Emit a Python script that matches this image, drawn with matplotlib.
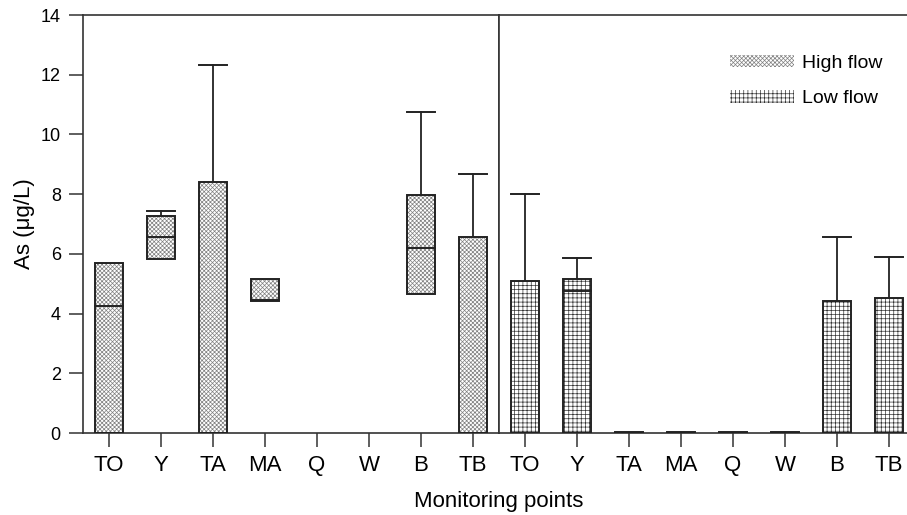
import numpy as np
import matplotlib
matplotlib.use('Agg')
import matplotlib.pyplot as plt
from matplotlib.patches import Patch

plt.rcParams['font.family'] = ['Liberation Sans', 'DejaVu Sans']
plt.rcParams['hatch.linewidth'] = 0.5

categories = ['TO', 'Y', 'TA', 'MA', 'Q', 'W', 'B', 'TB']
nan = np.nan

# high flow: box bottom / top, median line, whisker cap
high_bottom = [0, 5.83, 0, 4.43, nan, nan, 4.64, 0]
high_top = [5.70, 7.27, 8.41, 5.15, nan, nan, 7.97, 6.55]
high_median = [4.26, 6.55, nan, 4.46, nan, nan, 6.20, nan]
high_whisker = [nan, 7.42, 12.32, nan, nan, nan, 10.75, 8.68]

# low flow
low_bottom = [0, 0, 0, 0, 0, 0, 0, 0]
low_top = [5.10, 5.16, 0.03, 0.03, 0.03, 0.03, 4.43, 4.52]
low_median = [nan, 4.76, nan, nan, nan, nan, nan, nan]
low_whisker = [7.99, 5.86, nan, nan, nan, nan, 6.56, 5.91]

W, H = 907, 515
fig = plt.figure(figsize=(W / 100, H / 100), dpi=100)
ax1 = fig.add_axes([83 / W, 1 - 433 / H, 416 / W, 418 / H])
ax2 = fig.add_axes([499 / W, 1 - 433 / H, 416 / W, 418 / H])

x = np.arange(len(categories)) + 0.5
bw = 0.52

HIGH_HATCH, HIGH_COL = 'xxxxxxxx', '#808080'
LOW_HATCH, LOW_COL = '++++', '#333333'


def draw_boxes(ax, bottom, top, median, whisker, hatch, hcol):
    bottom = np.array(bottom, float)
    top = np.array(top, float)
    ok = ~np.isnan(top)
    # hatch layer, then outline on top
    ax.bar(x[ok], (top - bottom)[ok], bw, bottom=bottom[ok], color='white',
           edgecolor=hcol, hatch=hatch, linewidth=0, zorder=2)
    ax.bar(x[ok], (top - bottom)[ok], bw, bottom=bottom[ok], fill=False,
           edgecolor='#222222', linewidth=1.4, zorder=3)
    for xi, t, m, w in zip(x, top, median, whisker):
        if not np.isnan(m):
            ax.plot([xi - bw / 2, xi + bw / 2], [m, m], color='#222222', lw=1.4, zorder=4)
        if not np.isnan(w):
            ax.plot([xi, xi], [t, w], color='#222222', lw=1.3, zorder=1)
            ax.plot([xi - bw / 2, xi + bw / 2], [w, w], color='#222222', lw=1.4, zorder=1)


draw_boxes(ax1, high_bottom, high_top, high_median, high_whisker, HIGH_HATCH, HIGH_COL)
draw_boxes(ax2, low_bottom, low_top, low_median, low_whisker, LOW_HATCH, LOW_COL)

for ax in (ax1, ax2):
    ax.set_xlim(0, 8)
    ax.set_ylim(0, 14)
    ax.set_xticks(x)
    ax.set_xticklabels(categories, fontsize=16)
    ax.tick_params(axis='x', length=10, width=1.1, pad=6, color='#333333')
    for s in ax.spines.values():
        s.set_linewidth(1.2)
        s.set_color('#333333')

ax1.set_yticks(range(0, 15, 2))
ax1.tick_params(axis='y', labelsize=13, length=10, width=1.1, pad=6, color='#333333')
ax1.set_ylabel('As (\u03bcg/L)', fontsize=16, labelpad=4)
ax2.set_yticks([])
ax2.spines['right'].set_visible(False)

fig.text(499 / W, 1 - 507 / H, 'Monitoring points', fontsize=16, ha='center', va='baseline')

handles = [Patch(facecolor='white', edgecolor=HIGH_COL, hatch=HIGH_HATCH, linewidth=0),
           Patch(facecolor='white', edgecolor=LOW_COL, hatch=LOW_HATCH, linewidth=0)]
ax2.legend(handles, ['High flow', 'Low flow'], loc='upper left',
           bbox_to_anchor=(720 / W, 1 - 45 / H), bbox_transform=fig.transFigure,
           frameon=False, fontsize=14, handlelength=3.3, handleheight=0.6,
           handletextpad=0.4, labelspacing=0.95, borderpad=0)

fig.savefig('out.png', dpi=100)
